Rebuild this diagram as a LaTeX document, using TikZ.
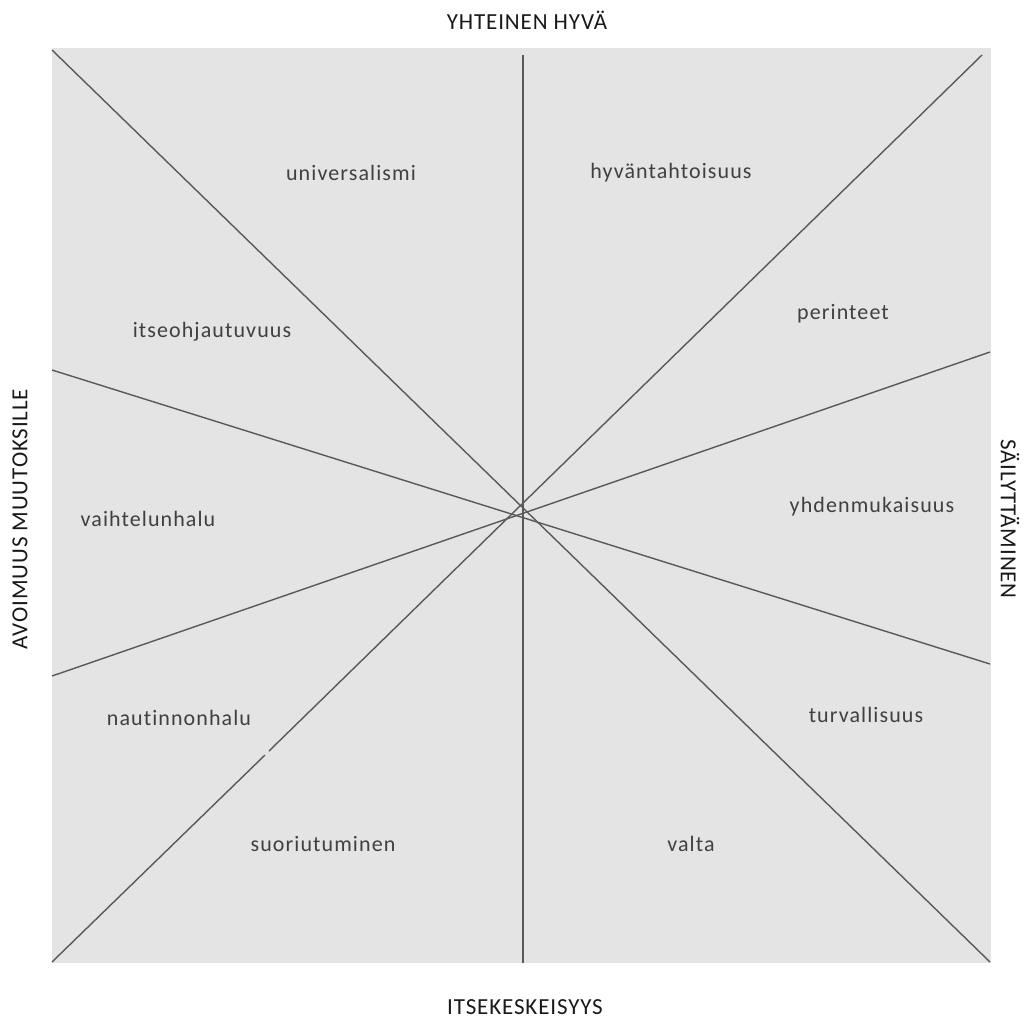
\documentclass[tikz,border=0pt]{standalone}
\usepackage{fontspec}
\setmainfont{Carlito}
\newfontfamily\lblfont[LetterSpace=5.0,Ligatures={NoCommon,NoRare,NoContextual}]{Carlito}
\newfontfamily\axisfont[LetterSpace=3.8,Ligatures={NoCommon,NoRare,NoContextual}]{Carlito}
\begin{document}
\begin{tikzpicture}[x=1pt,y=-1pt,
  lbl/.style={text=black!75, font=\lblfont\fontsize{22}{26}\selectfont, inner sep=0pt},
  axis/.style={text=black!90, font=\axisfont\fontsize{23}{27}\selectfont, inner sep=0pt},
  sep/.style={draw=black!65, line width=1.4pt}]
\useasboundingbox (0,0) rectangle (1024,1021);
\fill[fill={rgb,255:red,228;green,228;blue,228}] (52,48) rectangle (991,963);
% named end points
\coordinate (vT) at (523,55);
\coordinate (vB) at (523,963);
\coordinate (dTL) at (52,50);
\coordinate (dBR) at (990,962);
\coordinate (dBL) at (52,962);
\coordinate (gA) at (265,755);
\coordinate (gB) at (269,751);
\coordinate (dTR) at (982,55);
\coordinate (sL1) at (52,370);
\coordinate (sR1) at (990,664);
\coordinate (sL2) at (52,676);
\coordinate (sR2) at (990,352);
\draw[sep] (vT) -- (vB);
\draw[sep] (dTL) -- (dBR);
\draw[sep] (dBL) -- (gA);
\draw[sep] (gB) -- (dTR);
\draw[sep] (sL1) -- (sR1);
\draw[sep] (sL2) -- (sR2);
% labels
\node[lbl] (universalismi) at (351,173) {universalismi};
\node[lbl] (hyv) at (671,173) {hyväntahtoisuus};
\node[lbl] (perinteet) at (843,314) {perinteet};
\node[lbl] (itseoh) at (212,332) {itseohjautuvuus};
\node[lbl] (vaiht) at (148,519) {vaihtelunhalu};
\node[lbl] (yhden) at (872,507) {yhdenmukaisuus};
\node[lbl] (nautin) at (179,718) {nautinnonhalu};
\node[lbl] (turva) at (866,715) {turvallisuus};
\node[lbl] (suor) at (323,844) {suoriutuminen};
\node[lbl] (valta) at (691,844) {valta};
\node[axis] (top) at (527,20) {YHTEINEN HYVÄ};
\node[axis] (bottom) at (525,1007) {ITSEKESKEISYYS};
\node[axis, rotate=90] (left) at (20,519) {AVOIMUUS MUUTOKSILLE};
\node[axis, rotate=-90] (right) at (1010,519) {SÄILYTTÄMINEN};
\end{tikzpicture}
\end{document}
